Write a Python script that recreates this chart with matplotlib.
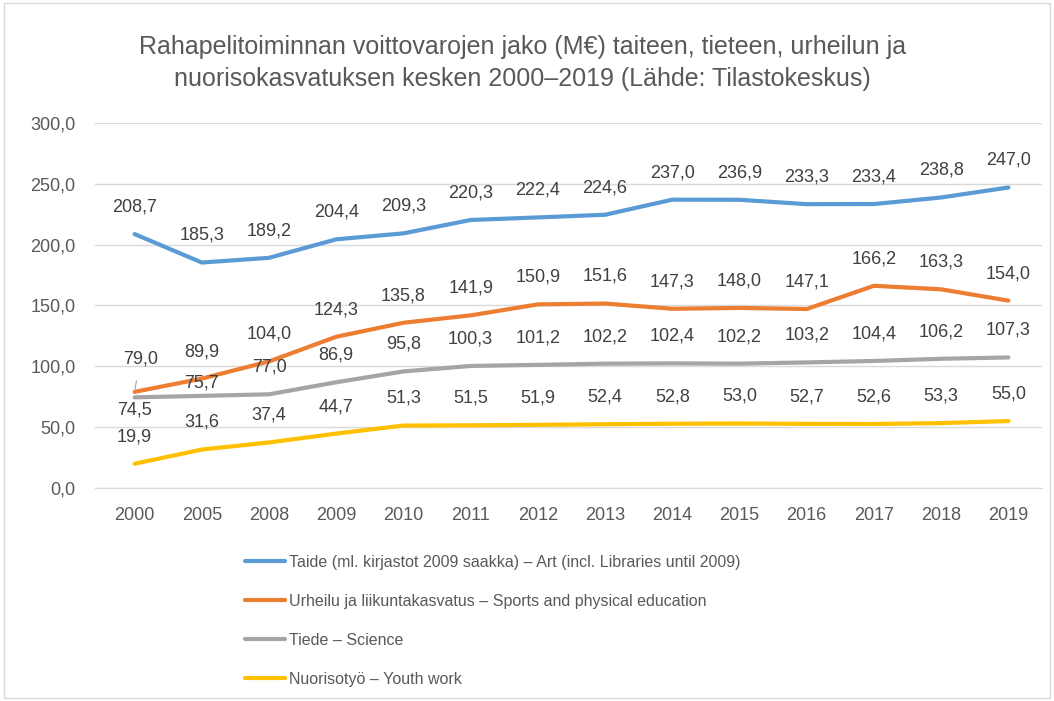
import numpy as np
import matplotlib.pyplot as plt
from matplotlib.lines import Line2D
from matplotlib.patches import Rectangle

plt.rcParams["font.family"] = ["Liberation Sans", "DejaVu Sans"]

years = ["2000", "2005", "2008", "2009", "2010", "2011", "2012",
         "2013", "2014", "2015", "2016", "2017", "2018", "2019"]
taide = [208.7, 185.3, 189.2, 204.4, 209.3, 220.3, 222.4,
         224.6, 237.0, 236.9, 233.3, 233.4, 238.8, 247.0]
urheilu = [79.0, 89.9, 104.0, 124.3, 135.8, 141.9, 150.9,
           151.6, 147.3, 148.0, 147.1, 166.2, 163.3, 154.0]
tiede = [74.5, 75.7, 77.0, 86.9, 95.8, 100.3, 101.2,
         102.2, 102.4, 102.2, 103.2, 104.4, 106.2, 107.3]
nuoriso = [19.9, 31.6, 37.4, 44.7, 51.3, 51.5, 51.9,
           52.4, 52.8, 53.0, 52.7, 52.6, 53.3, 55.0]

names = ["Taide (ml. kirjastot 2009 saakka) – Art (incl. Libraries until 2009)",
         "Urheilu ja liikuntakasvatus – Sports and physical education",
         "Tiede – Science",
         "Nuorisotyö – Youth work"]
colors = ["#5B9BD5", "#ED7D31", "#A5A5A5", "#FFC000"]

title = ("Rahapelitoiminnan voittovarojen jako (M€) taiteen, tieteen, urheilun ja\n"
         "nuorisokasvatuksen kesken 2000–2019 (Lähde: Tilastokeskus)")

def fmt(v):
    return f"{v:.1f}".replace(".", ",")

fig = plt.figure(figsize=(10.54, 7.01), dpi=100)
ax = fig.add_axes([0.0901, 0.3039, 0.8985, 0.5206])

x = np.arange(len(years))
series = [taide, urheilu, tiede, nuoriso]
for vals, c in zip(series, colors):
    ax.plot(x, vals, color=c, lw=3.0, solid_capstyle="round", zorder=3)

lab_col = "#404040"
for si, vals in enumerate(series):
    for i, v in enumerate(vals):
        if si == 2 and i == 0:
            # 74,5 sits below the line
            ax.annotate(fmt(v), (x[i], v), xytext=(0, -9), textcoords="offset points",
                        ha="center", va="center", fontsize=13, color=lab_col)
        elif si == 2 and i == 1:
            ax.annotate(fmt(v), (x[i], v), xytext=(0, 9), textcoords="offset points",
                        ha="center", va="center", fontsize=13, color=lab_col)
        elif si == 1 and i == 0:
            ax.annotate(fmt(v), (x[i], v), xytext=(4, 24), textcoords="offset points",
                        ha="center", va="center", fontsize=13, color=lab_col,
                        arrowprops=dict(arrowstyle="-", color="#A6A6A6", lw=0.8,
                                        shrinkA=8, shrinkB=2))
        else:
            ax.annotate(fmt(v), (x[i], v), xytext=(0, 19.5), textcoords="offset points",
                        ha="center", va="center", fontsize=13, color=lab_col)

ax.set_xlim(-0.59, len(years) - 0.5)
ax.set_ylim(0, 300)
ax.set_xticks(x)
ax.set_xticklabels(years)
ax.set_yticks(np.arange(0, 301, 50))
ax.set_yticklabels([fmt(v) for v in np.arange(0, 301, 50)])
ax.tick_params(length=0, labelsize=13, labelcolor="#595959")
ax.tick_params(axis="x", pad=14)
ax.tick_params(axis="y", pad=14)
ax.grid(axis="y", color="#D9D9D9", lw=1)
ax.set_axisbelow(True)
for s in ["top", "right", "left"]:
    ax.spines[s].set_visible(False)
ax.spines["bottom"].set_color("#D9D9D9")

fig.text(0.496, 0.910, title, ha="center", va="center", fontsize=18,
         color="#595959", linespacing=1.38)

handles = [Line2D([], [], color=c, lw=3.0, solid_capstyle="round") for c in colors]
fig.legend(handles, names, loc="upper left", bbox_to_anchor=(0.225, 0.2197),
           frameon=False, fontsize=11.5, labelcolor="#595959", handlelength=2.5,
           handletextpad=0.25, labelspacing=1.5, borderpad=0)

fig.add_artist(Rectangle((0.004, 0.004), 0.992, 0.992, transform=fig.transFigure,
                         fill=False, edgecolor="#D9D9D9", lw=1))

fig.savefig("out.png", dpi=100)
